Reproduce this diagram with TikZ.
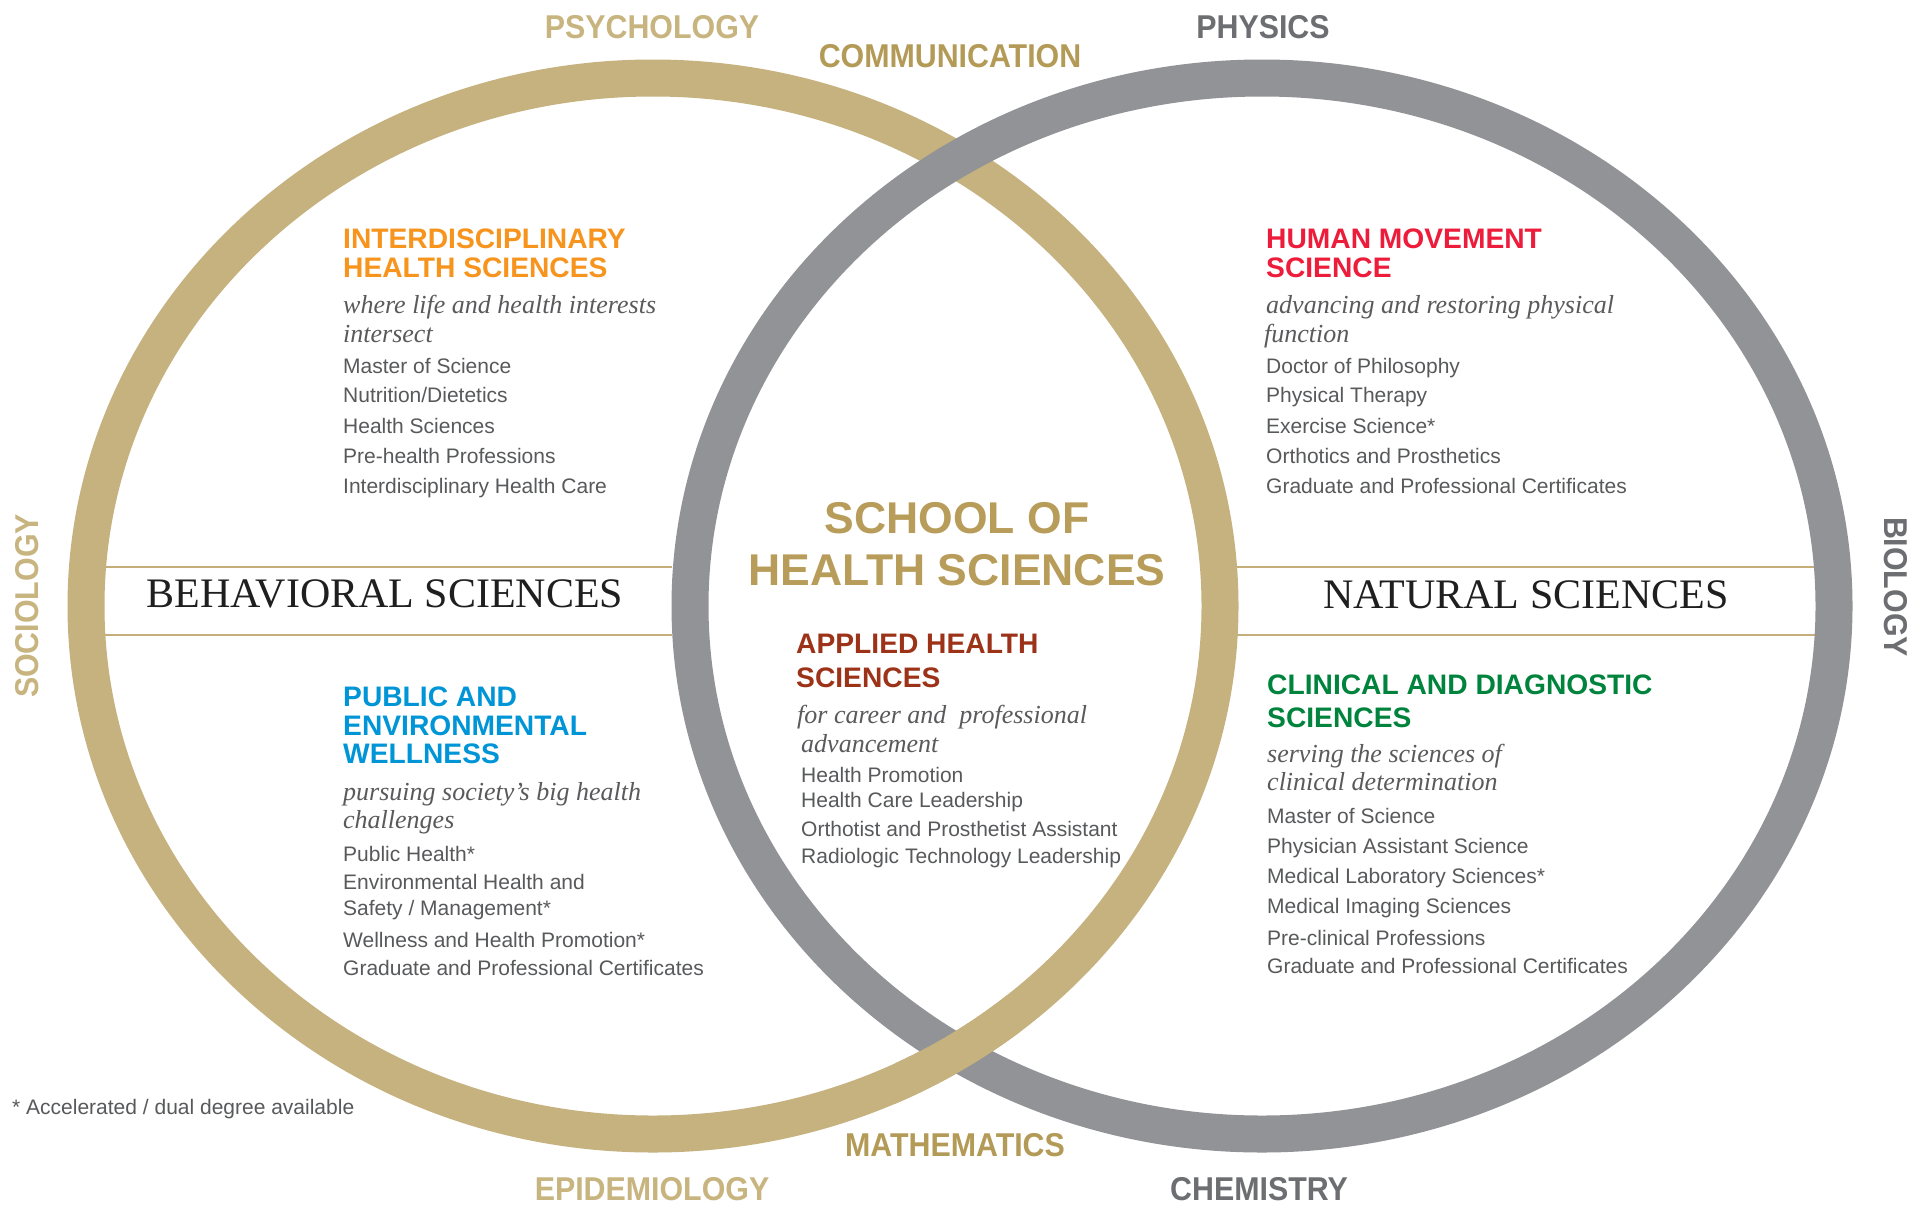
\documentclass[tikz,border=0pt]{standalone}
\usepackage{fontspec}
\setmainfont{Liberation Sans}
\newfontfamily\labfont[FakeStretch=0.92]{Liberation Sans}
\newfontfamily\serifface{Liberation Serif}
\definecolor{ringgold}{HTML}{C6B27F}
\definecolor{ringgray}{HTML}{929397}
\definecolor{labgold}{HTML}{C8B47F}
\definecolor{darkgold}{HTML}{B39A56}
\definecolor{titlegold}{HTML}{B89C5A}
\definecolor{labgray}{HTML}{6D6E71}
\definecolor{linegold}{HTML}{C6AE7A}
\definecolor{bodyc}{HTML}{58595B}
\definecolor{tagc}{HTML}{5A5A5C}
\definecolor{hdorange}{HTML}{F7941D}
\definecolor{hdred}{HTML}{ED1C3A}
\definecolor{hdblue}{HTML}{0095D6}
\definecolor{hdgreen}{HTML}{00843D}
\definecolor{hdbrown}{HTML}{9C3319}
\begin{document}
\begin{tikzpicture}[x=1pt,y=-1pt,
  goldring/.style={draw=ringgold,line width=37pt},
  grayring/.style={draw=ringgray,line width=37pt},
  sepline/.style={draw=linegold,line width=1.6pt},
  lab/.style={font=\labfont\bfseries\fontsize{33}{33}\selectfont,inner sep=0pt},
  title/.style={font=\bfseries\fontsize{44.5}{44.5}\selectfont,text=titlegold,inner sep=0pt,anchor=base},
  area/.style={font=\serifface\fontsize{42}{42}\selectfont,text=black!88,inner sep=0pt,anchor=base},
  hd/.style={font=\bfseries\fontsize{28.2}{28.2}\selectfont,inner sep=0pt,anchor=base west},
  tag/.style={font=\serifface\itshape\fontsize{26}{26}\selectfont,text=tagc,inner sep=0pt,anchor=base west},
  item/.style={font=\fontsize{21}{21}\selectfont,text=bodyc,inner sep=0pt,anchor=base west}]
\useasboundingbox (0,0) rectangle (1921,1211);
\fill[white] (0,0) rectangle (1921,1211);

% separator lines
\draw[sepline] (105,567) -- (672,567);
\draw[sepline] (105,635) -- (672,635);
\draw[sepline] (1237,567) -- (1816,567);
\draw[sepline] (1237,635) -- (1816,635);

% rings
\draw[goldring] (653,606) ellipse [x radius=567pt, y radius=528pt];
\draw[grayring] (1262,606) ellipse [x radius=572pt, y radius=528pt];
\begin{scope}
  \clip (895,995) rectangle (1020,1115);
  \draw[goldring] (653,606) ellipse [x radius=567pt, y radius=528pt];
\end{scope}

% outer labels
\node[lab,text=labgold] (psy) at (652,27) {PSYCHOLOGY};
\node[lab,text=darkgold] (com) at (950,56) {COMMUNICATION};
\node[lab,text=labgray] (phy) at (1263,27) {PHYSICS};
\node[lab,text=labgold,rotate=90] (soc) at (27,606) {SOCIOLOGY};
\node[lab,text=labgray,rotate=-90] (bio) at (1896,587) {BIOLOGY};
\node[lab,text=darkgold] (mat) at (955,1145) {MATHEMATICS};
\node[lab,text=labgold] (epi) at (652,1189) {EPIDEMIOLOGY};
\node[lab,text=labgray] (che) at (1259,1189) {CHEMISTRY};

% centre title
\node[title] (t1) at (957,533) {SCHOOL OF};
\node[title] (t2) at (957,585) {HEALTH SCIENCES};

% area names
\node[area] (beh) at (385,607) {BEHAVIORAL SCIENCES};
\node[area] (nat) at (1526,608) {NATURAL SCIENCES};

% interdisciplinary health sciences
\node[hd,text=hdorange] (ih1) at (343,248) {INTERDISCIPLINARY};
\node[hd,text=hdorange] (ih2) at (343,277) {HEALTH SCIENCES};
\node[tag] (it1) at (343,313) {where life and health interests};
\node[tag] (it2) at (343,342) {intersect};
\node[item] (ii1) at (343,373) {Master of Science};
\node[item] (ii2) at (343,402) {Nutrition/Dietetics};
\node[item] (ii3) at (343,433) {Health Sciences};
\node[item] (ii4) at (343,463) {Pre-health Professions};
\node[item] (ii5) at (343,493) {Interdisciplinary Health Care};

% human movement science
\node[hd,text=hdred] (hm1) at (1266,248) {HUMAN MOVEMENT};
\node[hd,text=hdred] (hm2) at (1266,277) {SCIENCE};
\node[tag] (ht1) at (1266,313) {advancing and restoring physical};
\node[tag] (ht2) at (1264,342) {function};
\node[item] (hi1) at (1266,373) {Doctor of Philosophy};
\node[item] (hi2) at (1266,402) {Physical Therapy};
\node[item] (hi3) at (1266,433) {Exercise Science*};
\node[item] (hi4) at (1266,463) {Orthotics and Prosthetics};
\node[item] (hi5) at (1266,493) {Graduate and Professional Certificates};

% public and environmental wellness
\node[hd,text=hdblue] (pw1) at (343,706) {PUBLIC AND};
\node[hd,text=hdblue] (pw2) at (343,735) {ENVIRONMENTAL};
\node[hd,text=hdblue] (pw3) at (343,763) {WELLNESS};
\node[tag] (pt1) at (343,800) {pursuing society’s big health};
\node[tag] (pt2) at (343,828) {challenges};
\node[item] (pi1) at (343,861) {Public Health*};
\node[item] (pi2) at (343,889) {Environmental Health and};
\node[item] (pi3) at (343,915) {Safety / Management*};
\node[item] (pi4) at (343,947) {Wellness and Health Promotion*};
\node[item] (pi5) at (343,975) {Graduate and Professional Certificates};

% clinical and diagnostic sciences
\node[hd,text=hdgreen] (cd1) at (1267,694) {CLINICAL AND DIAGNOSTIC};
\node[hd,text=hdgreen] (cd2) at (1267,727) {SCIENCES};
\node[tag] (ct1) at (1267,762) {serving the sciences of};
\node[tag] (ct2) at (1267,790) {clinical determination};
\node[item] (ci1) at (1267,823) {Master of Science};
\node[item] (ci2) at (1267,853) {Physician Assistant Science};
\node[item] (ci3) at (1267,883) {Medical Laboratory Sciences*};
\node[item] (ci4) at (1267,913) {Medical Imaging Sciences};
\node[item] (ci5) at (1267,945) {Pre-clinical Professions};
\node[item] (ci6) at (1267,973) {Graduate and Professional Certificates};

% applied health sciences
\node[hd,text=hdbrown] (ah1) at (796,653) {APPLIED HEALTH};
\node[hd,text=hdbrown] (ah2) at (796,687) {SCIENCES};
\node[tag] (at1) at (797,723) {for career and\ \ professional};
\node[tag] (at2) at (801,752) {advancement};
\node[item] (ai1) at (801,782) {Health Promotion};
\node[item] (ai2) at (801,807) {Health Care Leadership};
\node[item] (ai3) at (801,836) {Orthotist and Prosthetist Assistant};
\node[item] (ai4) at (801,863) {Radiologic Technology Leadership};

% footnote
\node[item] (fn) at (12,1114) {* Accelerated / dual degree available};
\end{tikzpicture}
\end{document}
